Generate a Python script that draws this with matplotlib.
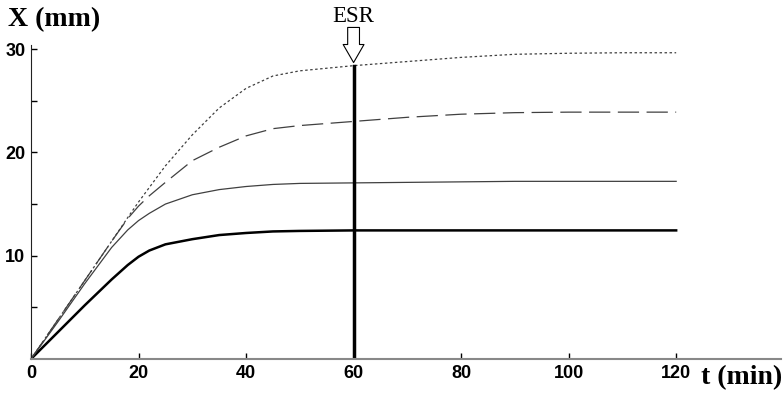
import matplotlib
matplotlib.use("Agg")
import matplotlib.pyplot as plt

# time axis (min)
t = [0, 5, 10, 15, 18, 20, 22, 25, 30, 35, 40, 45, 50, 60, 70, 80, 90, 100, 110, 120]

# sedimentation curves X (mm)
x_thick = [0, 2.6, 5.2, 7.7, 9.1, 9.9, 10.5, 11.1, 11.6, 12.0, 12.2, 12.35, 12.4, 12.45, 12.45, 12.45, 12.45, 12.45, 12.45, 12.45]
x_thin = [0, 3.6, 7.3, 10.8, 12.5, 13.4, 14.1, 15.0, 15.9, 16.4, 16.7, 16.9, 17.0, 17.05, 17.1, 17.15, 17.2, 17.2, 17.2, 17.2]
x_dashed = [0, 3.8, 7.6, 11.4, 13.6, 14.8, 15.8, 17.1, 19.2, 20.5, 21.6, 22.3, 22.6, 23.0, 23.4, 23.7, 23.85, 23.9, 23.9, 23.9]
x_dotted = [0, 3.8, 7.6, 11.4, 13.7, 15.2, 16.6, 18.7, 21.7, 24.3, 26.2, 27.4, 27.9, 28.4, 28.8, 29.2, 29.5, 29.6, 29.65, 29.65]

esr_t = 60
esr_x = 28.4

xticks = [0, 20, 40, 60, 80, 100, 120]
yticks = [5, 10, 15, 20, 25, 30]
ylabels = ["", "10", "", "20", "", "30"]

tick_font = ["Liberation Sans Narrow", "Liberation Sans", "DejaVu Sans"]
serif = ["Liberation Serif", "DejaVu Serif"]

fig = plt.figure(figsize=(7.84, 3.93), dpi=100)
ax = fig.add_axes([31 / 784, 34 / 393, 750 / 784, 314 / 393])

ax.plot(t, x_thick, color="black", lw=1.8)
ax.plot(t, x_thin, color="#404040", lw=0.9)
ax.plot(t, x_dashed, color="#404040", lw=0.9, dashes=(17, 6))
ax.plot(t, x_dotted, color="#404040", lw=0.9, dashes=(2, 2))

# ESR marker
ax.plot([esr_t, esr_t], [0, esr_x], color="black", lw=2.5)
ax.annotate("", xy=(esr_t, esr_x + 0.3), xytext=(esr_t, 32.1),
            arrowprops=dict(arrowstyle="simple,head_width=1.5,head_length=1.3,tail_width=0.85",
                            fc="white", ec="black", lw=0.8, mutation_scale=10,
                            shrinkA=0, shrinkB=0),
            annotation_clip=False)
ax.text(esr_t, 33.2, "ESR", ha="center", va="center", fontsize=16.5, family=serif, clip_on=False)

ax.set_xlim(0, 139.5)
ax.set_ylim(0, 30.4)
ax.set_xticks(xticks)
ax.set_yticks(yticks)
ax.set_yticklabels(ylabels)
ax.tick_params(direction="in", length=4, width=1, pad=4)
for lab in ax.get_xticklabels() + ax.get_yticklabels():
    lab.set_family(tick_font)
    lab.set_fontweight("bold")
    lab.set_fontsize(13)

ax.spines["top"].set_visible(False)
ax.spines["right"].set_visible(False)
ax.spines["left"].set_color("#222222")
ax.spines["bottom"].set_color("#888888")
ax.spines["bottom"].set_linewidth(1.5)

fig.text(8 / 784, 1 - 20 / 393, "X (mm)", ha="left", va="center", fontsize=20,
         fontweight="bold", family=serif)
fig.text(782 / 784, 15 / 393, "t (min)", ha="right", va="center", fontsize=20,
         fontweight="bold", family=serif)

fig.savefig("out.png", dpi=100)
